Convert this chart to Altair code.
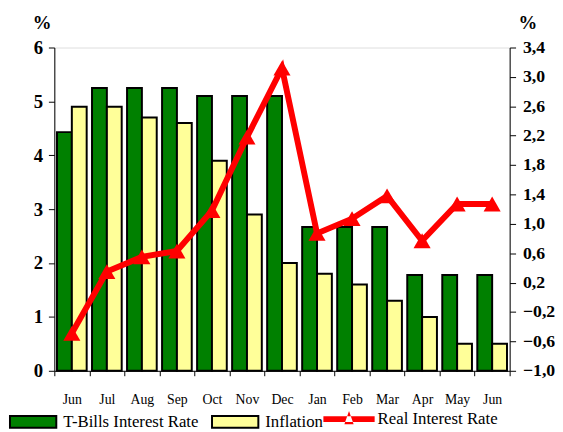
import altair as alt
import pandas as pd

months = ["Jun", "Jul", "Aug", "Sep", "Oct", "Nov", "Dec", "Jan", "Feb", "Mar", "Apr", "May", "Jun"]
tbills = [4.43, 5.25, 5.25, 5.25, 5.1, 5.1, 5.1, 2.67, 2.67, 2.67, 1.78, 1.78, 1.78]
inflation = [4.9, 4.9, 4.7, 4.6, 3.9, 2.9, 2.0, 1.8, 1.6, 1.3, 1.0, 0.5, 0.5]
real_rate = [-0.49, 0.35, 0.55, 0.63, 1.18, 2.18, 3.12, 0.87, 1.07, 1.38, 0.77, 1.27, 1.27]
left_ticks = [0, 1, 2, 3, 4, 5, 6]
right_ticks = [-1.0, -0.6, -0.2, 0.2, 0.6, 1.0, 1.4, 1.8, 2.2, 2.6, 3.0, 3.4]

S1 = "T-Bills Interest Rate"
S2 = "Inflation"
S3 = "Real Interest Rate"

rows = []
for i, m in enumerate(months):
    rows.append({"idx": i, "series": S1, "value": tbills[i]})
    rows.append({"idx": i, "series": S2, "value": inflation[i]})
bars_df = pd.DataFrame(rows)
line_df = pd.DataFrame({"idx": list(range(len(months))), "real": real_rate, "series": [S3] * len(months)})

FONT = "Liberation Serif, Times New Roman, serif"
label_arr = "[" + ",".join("'" + m + "'" for m in months) + "]"

x_enc = alt.X(
    "idx:O",
    title=None,
    scale=alt.Scale(paddingInner=0, paddingOuter=0),
    axis=alt.Axis(
        labelExpr=label_arr + "[datum.value]",
        labelAngle=0,
        tickBand="extent",
        domainColor="black",
        tickColor="black",
        tickSize=5,
        labelFont=FONT,
        labelFontSize=14,
        labelColor="black",
        labelPadding=17,
        grid=False,
    ),
)

bars = alt.Chart(bars_df).mark_bar(stroke="black", strokeWidth=2).encode(
    x=x_enc,
    xOffset=alt.XOffset("series:N", sort=[S1, S2], scale=alt.Scale(paddingInner=0, paddingOuter=0.18)),
    y=alt.Y(
        "value:Q",
        scale=alt.Scale(domain=[0, 6], nice=False),
        axis=alt.Axis(
            values=left_ticks,
            title="%",
            titleAngle=0,
            titleX=-13,
            titleY=-19,
            titleAlign="center",
            titleBaseline="alphabetic",
            titleFont=FONT,
            titleFontSize=19,
            titleFontWeight="bold",
            titleColor="black",
            labelFont=FONT,
            labelFontSize=19,
            labelFontWeight="bold",
            labelColor="black",
            labelPadding=6,
            tickSize=6,
            tickColor="black",
            domainColor="black",
            grid=False,
        ),
    ),
    fill=alt.Fill(
        "series:N",
        scale=alt.Scale(domain=[S1, S2], range=["#008000", "#ffff99"]),
        legend=alt.Legend(
            title=None,
            orient="none",
            legendX=-46,
            legendY=355,
            direction="horizontal",
            symbolType="M-1,-0.25H1V0.25H-1Z",
            symbolSize=2209,
            symbolStrokeColor="black",
            symbolStrokeWidth=2,
            labelOffset=6,
            columnPadding=9,
            labelFont=FONT,
            labelFontSize=17,
            labelColor="black",
            labelLimit=300,
            padding=0,
        ),
    ),
)

right_axis = alt.Axis(
    orient="right",
    values=right_ticks,
    labelExpr="replace(format(datum.value, '.1f'), '.', ',')",
    title="%",
    titleAngle=0,
    titleX=18,
    titleY=-19,
    titleAlign="center",
    titleBaseline="alphabetic",
    titleFont=FONT,
    titleFontSize=19,
    titleFontWeight="bold",
    titleColor="black",
    labelFont=FONT,
    labelFontSize=18,
    labelFontWeight="bold",
    labelColor="black",
    labelPadding=7,
    tickSize=6,
    tickColor="black",
    domainColor="black",
    grid=False,
)
y_right = alt.Y("real:Q", scale=alt.Scale(domain=[-1.0, 3.4], nice=False, zero=False), axis=right_axis)

line = alt.Chart(line_df).mark_line(color="#ff0000", strokeWidth=6).encode(
    x=alt.X("idx:O"),
    y=y_right,
)
points = alt.Chart(line_df).mark_point(shape="triangle-up", filled=True, size=300, opacity=1).encode(
    x=alt.X("idx:O"),
    y=y_right,
    color=alt.Color(
        "series:N",
        scale=alt.Scale(domain=[S3], range=["#ff0000"]),
        legend=alt.Legend(
            title=None,
            orient="none",
            legendX=273,
            legendY=351,
            symbolType="M-1,-0.115H1V0.115H-1Z M-0.18,0.2 L0.18,0.2 L0,-0.32 Z",
            symbolSize=2704,
            symbolStrokeWidth=0,
            labelOffset=3,
            labelFont=FONT,
            labelFontSize=17,
            labelColor="black",
            labelLimit=300,
            padding=0,
        ),
    ),
)

chart = (
    alt.layer(bars, alt.layer(line, points))
    .resolve_scale(y="independent")
    .properties(
        width=462,
        height=328,
        autosize="none",
        padding={"left": 47, "top": 37, "right": 46, "bottom": 59},
    )
    .configure_view(strokeWidth=0)
    .configure(background="white")
)

chart.save("out.html", embed_options={"renderer": "svg", "actions": False})
